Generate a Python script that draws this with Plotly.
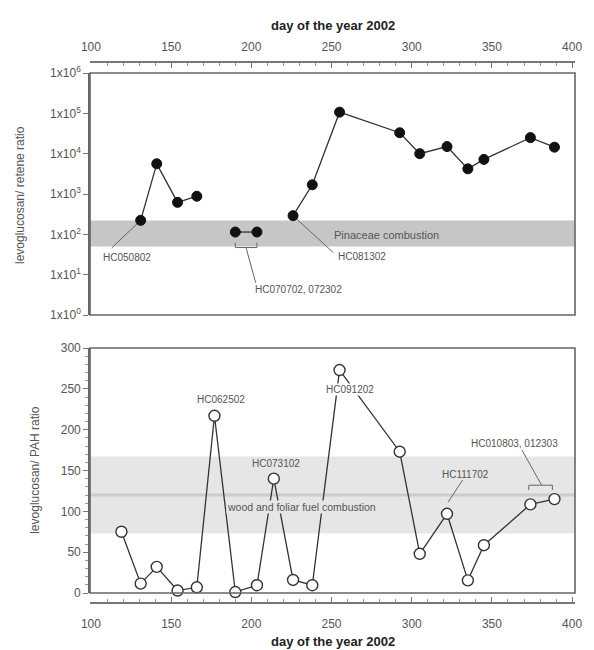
import math
import plotly.graph_objects as go

# ---------------- data ----------------
days = [119, 131, 141, 154, 166, 177, 190, 203.5, 214, 226, 238, 255, 292.5, 305, 322, 335, 345, 374, 389]
# levoglucosan / retene (None = not measured, breaks line)
retene_ratio = [None, 222, 5600, 620, 880, None, 114, 114, None, 290, 1690, 107000, 33000, 10000, 15000, 4200, 7200, 25000, 14500]
# levoglucosan / PAH
pah_ratio = [75, 11.5, 32, 3, 7, 217, 1.2, 9.5, 140, 16, 9.5, 273, 173, 48, 97, 15.5, 58.5, 108.5, 115]

x_ticks = [100, 150, 200, 250, 300, 350, 400]
top_y_ticks = [1, 10, 100, 1000, 10000, 100000, 1000000]
top_y_ticktext = ["1x10<sup>%d</sup>" % i for i in range(7)]
bot_y_ticks = [0, 50, 100, 150, 200, 250, 300]

pinaceae_band = [50, 220]
wood_band = [73, 167]
wood_line = 120

# ---------------- layout geometry ----------------
# page body has an 8px margin; figure sized to fit the 594x650 window
OFF = 8
W, H = 594 - OFF, 650 - OFF
ML, MR, MT, MB = 90 - OFF, 12, 62 - OFF, 47
PH = H - MT - MB
PW = W - ML - MR
def py(p):  # screen pixel y -> paper y
    return (H - MB - (p - OFF)) / PH
def px(p):  # screen pixel x -> paper x
    return (p - OFF - ML) / PW
top_dom = [py(315), py(73)]
bot_dom = [py(593), py(348)]
x_range = [99.4, 401.8]

TXT = "#555555"
LINE = "#333333"
FONT = "Liberation Sans, Arial, sans-serif"

fig = go.Figure()

# top band
lo = math.log10(pinaceae_band[0]) / 6
hi = math.log10(pinaceae_band[1]) / 6
fig.add_shape(type="rect", xref="x domain", yref="y domain", x0=0, x1=1, y0=lo, y1=hi,
              fillcolor="#c6c6c6", line=dict(width=0), layer="below")
# bottom band
fig.add_shape(type="rect", xref="x2 domain", yref="y2", x0=0, x1=1, y0=wood_band[0], y1=wood_band[1],
              fillcolor="#e6e6e6", line=dict(width=0), layer="below")
fig.add_shape(type="line", xref="x2 domain", yref="y2", x0=0, x1=1, y0=wood_line, y1=wood_line,
              line=dict(color="#cccccc", width=3), layer="below")

# leader lines
def lead(xs, ys, xa="x", ya="y"):
    fig.add_trace(go.Scatter(x=xs, y=ys, mode="lines", xaxis=xa, yaxis=ya,
                             line=dict(color="#666666", width=1), hoverinfo="skip",
                             showlegend=False, cliponaxis=False))

lead([131, 112.9], [222, 46])
lead([190, 190, 203.5, 203.5], [62, 47, 47, 62])
lead([196.7, 202.7], [47, 6.3])
lead([226, 251.2], [290, 35])
lead([331.8, 322.6], [138.5, 111], "x2", "y2")
lead([368.7, 381], [175, 132], "x2", "y2")
lead([373, 373, 387.7, 387.7], [126, 132, 132, 126], "x2", "y2")

# data traces
fig.add_trace(go.Scatter(x=days, y=retene_ratio, mode="lines+markers", xaxis="x", yaxis="y",
                         connectgaps=False, cliponaxis=False,
                         line=dict(color=LINE, width=1.3),
                         marker=dict(color="#111111", size=10, line=dict(color="#111111", width=1)),
                         showlegend=False))
fig.add_trace(go.Scatter(x=days, y=pah_ratio, mode="lines+markers", xaxis="x2", yaxis="y2",
                         cliponaxis=False,
                         line=dict(color=LINE, width=1.3),
                         marker=dict(color="white", size=11, line=dict(color=LINE, width=1.4)),
                         showlegend=False))

# annotations
def ann(text, x, y, xa="x", ya="y", xanchor="center", bg=None, size=10):
    d = dict(text=text, x=x, y=y, xref=xa, yref=ya, showarrow=False, xanchor=xanchor,
             yanchor="middle", font=dict(family=FONT, size=size, color=TXT))
    if bg:
        d["bgcolor"] = bg
        d["borderpad"] = 0
    fig.add_annotation(**d)

ann("HC050802", 122.7, math.log10(26))
ann("HC070702, 072302", 201, math.log10(4.2), xanchor="left")
ann("HC081302", 253, math.log10(27.6), xanchor="left")
ann("Pinaceae combustion", 250, math.log10(98), xanchor="left", size=11)

ann("HC062502", 181, 236.5, "x2", "y2")
ann("HC073102", 215.6, 158, "x2", "y2")
ann("wood and foliar fuel combustion", 231, 105, "x2", "y2", bg="#e6e6e6", size=10.5)
ann("HC091202", 261.7, 249, "x2", "y2", bg="white")
ann("HC111702", 333.6, 144.5, "x2", "y2")
ann("HC010803, 012303", 363.8, 182.5, "x2", "y2")

# axis titles
for ty in (25, 641):
    fig.add_annotation(text="<b>day of the year 2002</b>", x=px(336), y=py(ty), xref="paper", yref="paper",
                       xanchor="center", yanchor="middle", showarrow=False,
                       font=dict(family=FONT, size=13, color="#222222"))
fig.add_annotation(text="levoglucosan/ retene ratio", x=px(19), y=py(195),
                   xref="paper", yref="paper", showarrow=False, textangle=-90,
                   xanchor="center", yanchor="middle",
                   font=dict(family=FONT, size=12, color=TXT))
fig.add_annotation(text="levoglucosan/ PAH ratio", x=px(34), y=py(470),
                   xref="paper", yref="paper", showarrow=False, textangle=-90,
                   xanchor="center", yanchor="middle",
                   font=dict(family=FONT, size=12, color=TXT))

# boxes
for xa, ya in (("x", "y"), ("x2", "y2")):
    fig.add_shape(type="rect", xref=xa + " domain", yref=ya + " domain", x0=0, x1=1, y0=0, y1=1,
                  line=dict(color="#666666", width=1.6), layer="above")

xcommon = dict(range=x_range, tickvals=x_ticks, showline=True, linecolor="#777777", linewidth=1.6,
               ticks="inside", ticklen=5, tickcolor="#777777", showgrid=False, zeroline=False,
               tickfont=dict(family=FONT, size=12, color=TXT),
               minor=dict(dtick=10, ticks="inside", ticklen=3, tickcolor="#999999"),
               domain=[0, 1])

fig.update_layout(
    width=W, height=H, margin=dict(l=ML, r=MR, t=MT, b=MB),
    paper_bgcolor="white", plot_bgcolor="white",
    xaxis=dict(**xcommon, side="top", anchor="free", position=1, ticklabelstandoff=5),
    xaxis2=dict(**xcommon, side="bottom", anchor="free", position=0, ticklabelstandoff=10),
    yaxis=dict(type="log", range=[0, 6], domain=top_dom, anchor="x",
               tickvals=top_y_ticks, ticktext=top_y_ticktext, showgrid=False, zeroline=False,
               showline=True, linecolor="#666666", linewidth=1.6, ticks="outside", ticklen=5,
               tickcolor="#777777", tickfont=dict(family=FONT, size=12, color=TXT)),
    yaxis2=dict(range=[0, 300], domain=bot_dom, anchor="x2",
                tickvals=bot_y_ticks, showgrid=False, zeroline=False,
                showline=True, linecolor="#666666", linewidth=1.6, ticks="outside", ticklen=5,
                tickcolor="#777777", tickfont=dict(family=FONT, size=12, color=TXT),
                minor=dict(dtick=10, ticks="outside", ticklen=3, tickcolor="#999999")),
)

fig.write_html("out.html")
